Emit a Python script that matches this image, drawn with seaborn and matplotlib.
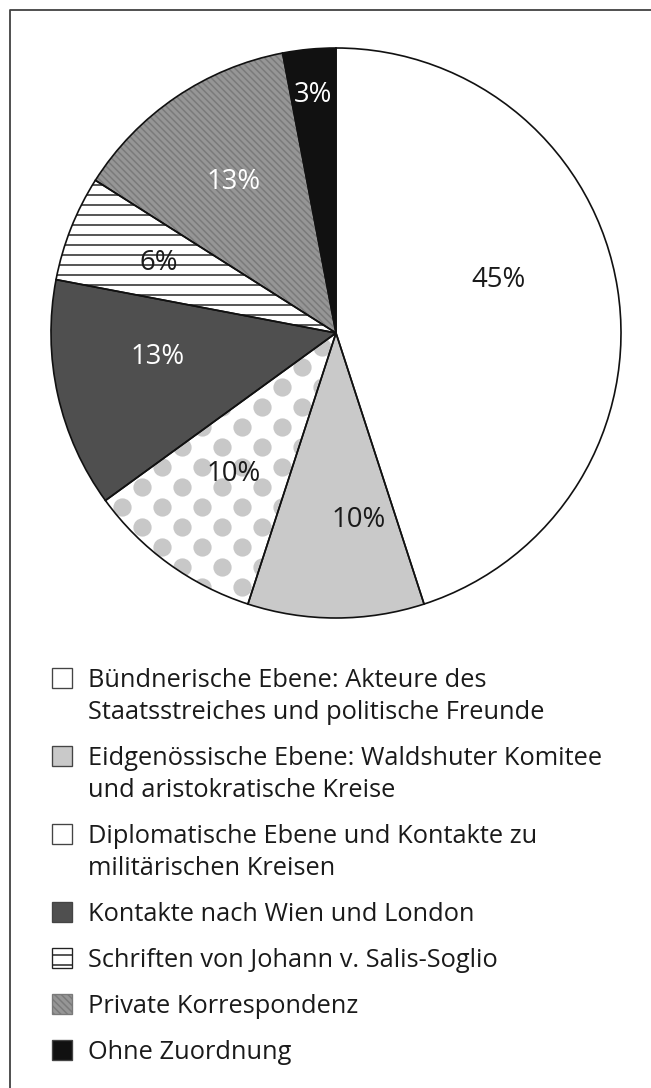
import numpy as np
import matplotlib
matplotlib.use("Agg")
import matplotlib.pyplot as plt
from matplotlib.patches import Rectangle
from matplotlib.lines import Line2D
import seaborn as sns


categories = [
    "Bündnerische Ebene: Akteure des\nStaatsstreiches und politische Freunde",
    "Eidgenössische Ebene: Waldshuter Komitee\nund aristokratische Kreise",
    "Diplomatische Ebene und Kontakte zu\nmilitärischen Kreisen",
    "Kontakte nach Wien und London",
    "Schriften von Johann v. Salis-Soglio",
    "Private Korrespondenz",
    "Ohne Zuordnung",
]
shares = [45, 10, 10, 13, 6, 13, 3]

# look of each slice (grey print style)
face_colors = ["white", "#c9c9c9", "white", "#4f4f4f", "white", "#969696", "#111111"]
hatches = [None, None, None, None, "--", "\\\\\\\\\\\\", None]
hatch_colors = ["black", "black", "black", "black", "#222222", "#7a7a7a", "black"]
label_colors = ["#1a1a1a", "#1a1a1a", "#1a1a1a", "white", "#1a1a1a", "white", "white"]
label_dist = [0.6, 0.66, 0.61, 0.63, 0.67, 0.64, 0.84]
label_shift = [-9, -7, 0, 5, 0, 0, 0]  # degrees, clockwise nudge

W, H, DPI = 651, 1088, 120

sns.set_theme(style="white")
plt.rcParams["font.family"] = ["Open Sans", "DejaVu Sans"]
plt.rcParams["hatch.linewidth"] = 0.9

fig = plt.figure(figsize=(W / DPI, H / DPI), dpi=DPI)
fig.patch.set_facecolor("white")

# pie axes: centre and radius in pixels
cx, cy, r = 336, 333, 285
ax = fig.add_axes([(cx - r) / W, 1 - (cy + r) / H, 2 * r / W, 2 * r / H])

wedges, _ = ax.pie(shares, startangle=90, counterclock=False,
                   colors=face_colors, wedgeprops=dict(linewidth=0))
for w, h, hc in zip(wedges, hatches, hatch_colors):
    if h:
        w.set_hatch(h)
        w.set_edgecolor(hc)

# dotted texture for the "Diplomatische Ebene" slice
step = 20 / r
gx, gy = np.meshgrid(np.arange(-1.1, 1.1, 2 * step), np.arange(-1.1, 1.1, step))
gx = gx + (np.arange(gy.shape[0])[:, None] % 2) * step
dots = ax.scatter(gx.ravel(), gy.ravel(), s=120, color="#c8c8c8",
                  linewidths=0, zorder=1.5)
dots.set_clip_path(wedges[2])

# outlines on top
outl, _ = ax.pie(shares, startangle=90, counterclock=False,
                 colors=["none"] * len(shares),
                 wedgeprops=dict(linewidth=1.0, edgecolor="#111111"))
for w in outl:
    w.set_zorder(2)

for w, v, d, sh, c in zip(wedges, shares, label_dist, label_shift, label_colors):
    ang = np.deg2rad((w.theta1 + w.theta2) / 2 - sh)
    ax.text(d * np.cos(ang), d * np.sin(ang), f"{v}%", ha="center", va="center",
            fontsize=16.5, color=c, zorder=3)

ax.set_xlim(-1, 1)
ax.set_ylim(-1, 1)
ax.set_aspect("equal")
ax.axis("off")

# frame around the figure (top and left visible)
fig.add_artist(Line2D([10 / W, 10 / W, 1.2], [-0.2, 1 - 10 / H, 1 - 10 / H],
                      transform=fig.transFigure, color="#444444", lw=1.1))

# legend drawn by hand so the box sits on the first text line
y = 687
for lab, fc, h, hc in zip(categories, face_colors, hatches, hatch_colors):
    box = Rectangle((52 / W, 1 - (y + 1) / H), 20 / W, 20 / H,
                    transform=fig.transFigure, facecolor=fc,
                    edgecolor=hc if h else "#444444", lw=0.8)
    if h:
        box.set_hatch(h)
    fig.add_artist(box)
    for k, line in enumerate(lab.split("\n")):
        fig.text(88 / W, 1 - (y + 32 * k) / H, line, fontsize=15.2,
                 ha="left", va="baseline", color="#1a1a1a")
    y += 32 * lab.count("\n") + 46

plt.savefig("out.png", dpi=DPI)
